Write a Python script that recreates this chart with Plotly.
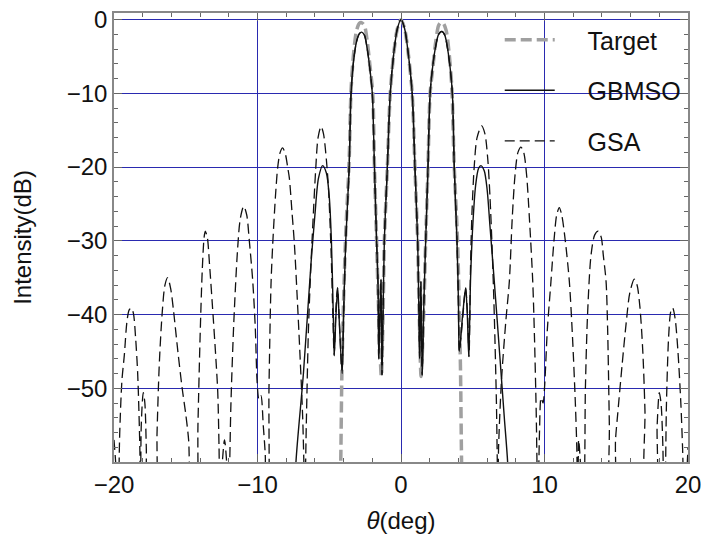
import plotly.graph_objects as go

# ---------------- data ----------------
target_x = [-4.35, -4.2, -4.12, -4.0, -3.85, -3.62, -3.48, -3.3, -3.1, -2.9, -2.75, -2.55, -2.35, -2.15, -1.97,
            -1.85, -1.7, -1.55, -1.37, -1.25, -1.16, -0.95, -0.75, -0.5, -0.25, 0.0,
            0.25, 0.5, 0.78, 0.97, 1.16, 1.27, 1.4, 1.58, 1.72, 1.88, 2.03, 2.22, 2.42, 2.62, 2.78, 2.95,
            3.15, 3.35, 3.55, 3.7, 3.92, 4.05, 4.15, 4.22, 4.35]
target_y = [-75, -60, -48, -38, -29, -19.5, -9.5, -4.5, -1.5, -0.5, -0.4, -0.8, -3, -6.5, -10,
            -20, -30, -40, -48.4, -40, -30, -20, -10, -4.5, -1.2, 0.0,
            -1.2, -4.5, -10, -20, -30, -40, -48.4, -40, -30, -20, -10, -6.5, -3, -0.8, -0.4, -0.5,
            -1.5, -4.5, -9.5, -19.5, -29, -38, -48, -60, -75]

gbmso_x = [-7.5, -7.32, -6.8, -6.27, -6.0, -5.75, -5.46, -5.2, -5.0, -4.85, -4.72, -4.65, -4.53, -4.41,
           -4.3, -4.1, -4.0, -3.85, -3.62, -3.48, -3.3, -3.1, -2.9, -2.74, -2.55, -2.35, -2.15, -2.0,
           -1.85, -1.7, -1.6, -1.55, -1.47, -1.39, -1.33, -1.25, -1.16, -0.95, -0.75, -0.5, -0.25, 0.0,
           0.25, 0.5, 0.78, 0.97, 1.16, 1.25, 1.3, 1.39, 1.48, 1.6, 1.72, 1.88, 2.03, 2.2, 2.4, 2.62,
           2.84, 3.05, 3.25, 3.45, 3.58, 3.72, 3.9, 4.0, 4.06, 4.3, 4.5, 4.62, 4.72, 4.85, 5.0, 5.2,
           5.4, 5.57, 5.8, 6.0, 6.2, 6.5, 6.9, 7.2, 7.43, 7.6]
gbmso_y = [-70, -60, -48, -33, -26.5, -21.5, -19.8, -20.8, -24, -30, -40, -45.6, -40, -36.4,
           -41, -48, -40, -30, -20.5, -10, -5.5, -3, -1.9, -1.7, -2.1, -4, -7, -10,
           -20, -30, -36, -46, -40, -35.2, -48.2, -40, -30, -20, -10, -4.5, -1.2, 0.0,
           -1.2, -4.5, -10, -20, -30, -40, -46, -35.5, -48.2, -38, -30, -20, -10, -6.5, -3.8, -2.0,
           -1.6, -2.1, -4, -7, -10, -20.5, -30, -38, -45, -40, -36.4, -40, -45.7, -35, -28, -22.5,
           -20.2, -19.8, -20.5, -23, -28, -35.5, -46, -54, -60, -70]

gsa_x = [-20.0, -19.85, -19.72, -19.6, -19.45, -19.28, -19.1, -18.95, -18.8, -18.65, -18.5, -18.35, -18.2, -18.15,
         -18.1, -17.96, -17.85, -17.75, -17.65,
         -17.1, -17.0, -16.85, -16.65, -16.45, -16.26, -16.05, -15.85, -15.55, -15.25, -15.0, -14.8, -14.65,
         -14.25, -14.15, -14.0, -13.85, -13.72, -13.64, -13.5, -13.35, -13.1, -12.9, -12.77, -12.68, -12.62,
         -12.45, -12.3, -12.15, -12.05,
         -12.0, -11.85, -11.65, -11.4, -11.2, -10.96, -10.75, -10.57, -10.33, -10.15, -10.03, -9.9, -9.76,
         -9.6, -9.46, -9.38,
         -9.3, -9.2, -9.06, -8.94, -8.75, -8.59, -8.42, -8.25, -8.05, -7.9, -7.78, -7.6, -7.43, -7.25, -7.05,
         -6.85, -6.7,
         -6.6, -6.45, -6.27, -6.1, -5.95, -5.78, -5.57, -5.4, -5.2, -5.05, -4.88, -4.75, -4.66,
         -4.53, -4.43, -4.32, -4.12, -4.0, -3.85, -3.62, -3.48, -3.3, -3.1, -2.9, -2.74, -2.55, -2.35, -2.15,
         -2.0, -1.85, -1.7, -1.6, -1.56, -1.47, -1.4, -1.32, -1.25, -1.16, -0.95, -0.75, -0.5, -0.25, 0.0,
         0.25, 0.5, 0.78, 0.97, 1.16, 1.25, 1.3, 1.38, 1.47, 1.6, 1.72, 1.88, 2.03, 2.2, 2.4, 2.62,
         2.84, 3.05, 3.25, 3.45, 3.58, 3.72, 3.9, 4.0, 4.07, 4.32, 4.5, 4.64, 4.74,
         4.85, 4.95, 5.1, 5.3, 5.62, 5.85, 6.05, 6.2, 6.35, 6.5, 6.65, 6.75,
         6.8, 7.0, 7.3, 7.55, 7.75, 7.95, 8.15, 8.36, 8.55, 8.75, 8.95, 9.18, 9.3, 9.42, 9.5,
         9.56, 9.65, 9.76, 9.9, 10.0, 10.2, 10.45, 10.66, 10.85, 11.03, 11.2, 11.45, 11.73, 11.95, 12.15,
         12.25, 12.3,
         12.35, 12.38, 12.5, 12.6,
         12.75, 12.85, 13.0, 13.24, 13.5, 13.75, 13.95, 14.1, 14.29, 14.4, 14.52, 14.6,
         14.85, 14.95, 15.1, 15.4, 15.7, 15.95, 16.26, 16.45, 16.65, 16.85, 17.0, 17.1,
         17.7, 17.85, 18.0, 18.12, 18.25, 18.32,
         18.4, 18.5, 18.65, 18.8, 18.93, 19.1, 19.3, 19.5, 19.62, 19.75,
         19.9, 20.0]
gsa_y = [-57, -61, -66, -56, -49, -45.5, -41, -39.4, -39.1, -39.8, -43, -48, -58, -66,
         -55, -50.6, -52, -58, -66,
         -64, -56, -47, -40, -36, -35, -36.5, -39.5, -45, -50, -53.5, -57, -63,
         -65, -55, -43, -34, -29.5, -28.7, -29.5, -33, -40, -46, -50.5, -58, -65,
         -60, -57, -60, -66,
         -65, -52, -41, -31.5, -27, -25.3, -26.5, -30, -35.5, -42, -49, -51.5, -51,
         -55, -59, -66,
         -66, -50, -36, -30.5, -24, -20, -18, -17.4, -18.3, -20, -21.5, -26, -30.4, -37, -45,
         -54, -64,
         -55, -42, -33, -26, -20.5, -16, -14.5, -15.5, -19, -23, -31, -40, -45.5,
         -39, -36.4, -40, -47.5, -40, -30, -20.5, -10, -5.5, -3, -1.9, -1.7, -2.1, -4, -7,
         -10, -20, -30, -36, -46, -40, -35.2, -48.2, -40, -30, -20, -10, -4.5, -1.2, 0.0,
         -1.2, -4.5, -10, -20, -30, -40, -46, -35.5, -48.2, -38, -30, -20, -10, -6.5, -3.8, -2.0,
         -1.6, -2.1, -4, -7, -10, -20.5, -30, -38, -45, -40, -36.4, -40, -45.7,
         -33, -26, -20, -16, -14.4, -15.5, -19, -24, -31, -40, -52, -64,
         -58, -49, -41, -35.5, -27, -21, -18, -17.3, -18, -21, -27, -35.5, -43, -53, -62,
         -64, -56, -51.3, -52, -50, -42, -35.5, -30, -26.5, -25.5, -26.5, -30, -35.5, -43, -52,
         -58, -64,
         -60, -57, -60, -66,
         -64, -50, -40, -32, -29.2, -28.7, -29.5, -32, -35.5, -42, -55, -64,
         -64, -57, -53.5, -47, -41, -37, -35.2, -36, -39, -45, -53, -64,
         -64, -55, -50.6, -52, -58, -66,
         -64, -52, -43, -39.6, -39.1, -40.5, -45, -52, -58, -66,
         -62, -58]

series_names = ["Target", "GBMSO", "GSA"]
x_ticks = [-20, -10, 0, 10, 20]
x_labels = ["\u221220", "\u221210", "0", "10", "20"]
y_ticks = [0, -10, -20, -30, -40, -50]
y_labels = ["0", "\u221210", "\u221220", "\u221230", "\u221240", "\u221250"]

# ---------------- figure ----------------
FONT = "Liberation Sans, Arial, Helvetica, sans-serif"
PAD = "\u00a0" * 4
fig = go.Figure()
fig.add_trace(go.Scatter(x=target_x, y=target_y, mode="lines", name=PAD + series_names[0], legendgroup="a",
                         line=dict(color="#a0a0a0", width=3.5, dash="11px,5px", shape="spline", smoothing=0.8)))
fig.add_trace(go.Scatter(x=gbmso_x, y=gbmso_y, mode="lines", name=PAD + series_names[1], legendgroup="b",
                         line=dict(color="#111111", width=1.4, shape="spline", smoothing=0.8)))
fig.add_trace(go.Scatter(x=gsa_x, y=gsa_y, mode="lines", name=PAD + series_names[2], legendgroup="c",
                         line=dict(color="#111111", width=1.3, dash="10px,5px", shape="spline", smoothing=0.8)))

axis_common = dict(
    showline=True, linecolor="#888888", linewidth=1.5, mirror="allticks",
    ticks="inside", ticklen=8, tickcolor="#666666", tickwidth=1,
    showgrid=True, gridcolor="#2a2ab0", gridwidth=1, zeroline=False, automargin=False,
    ticklabeloverflow="allow",
    tickfont=dict(family=FONT, size=24, color="#111111"),
)
fig.update_xaxes(range=[-20, 20], tickvals=x_ticks, ticktext=x_labels,
                 minor=dict(dtick=2, tick0=0, ticks="inside", ticklen=4, tickcolor="#666666", showgrid=False),
                 title=dict(text="<i>\u03b8</i>(deg)", font=dict(family=FONT, size=24, color="#111111"), standoff=16),
                 **axis_common)
fig.update_yaxes(range=[-60, 0.9], tickvals=y_ticks, ticktext=y_labels,
                 minor=dict(dtick=2, tick0=0, ticks="inside", ticklen=4, tickcolor="#666666", showgrid=False),
                 title=dict(text="Intensity(dB)", font=dict(family=FONT, size=24, color="#111111"), standoff=28),
                 **axis_common)

fig.update_layout(
    width=701, height=536,
    margin=dict(l=114, r=13, t=13, b=74),
    paper_bgcolor="white", plot_bgcolor="white",
    showlegend=True,
    legend=dict(x=0.672, y=0.991, xanchor="left", yanchor="top", bgcolor="rgba(0,0,0,0)",
                font=dict(family=FONT, size=25, color="#111111"), itemwidth=50,
                tracegroupgap=15),
)

fig.write_html("out.html")
